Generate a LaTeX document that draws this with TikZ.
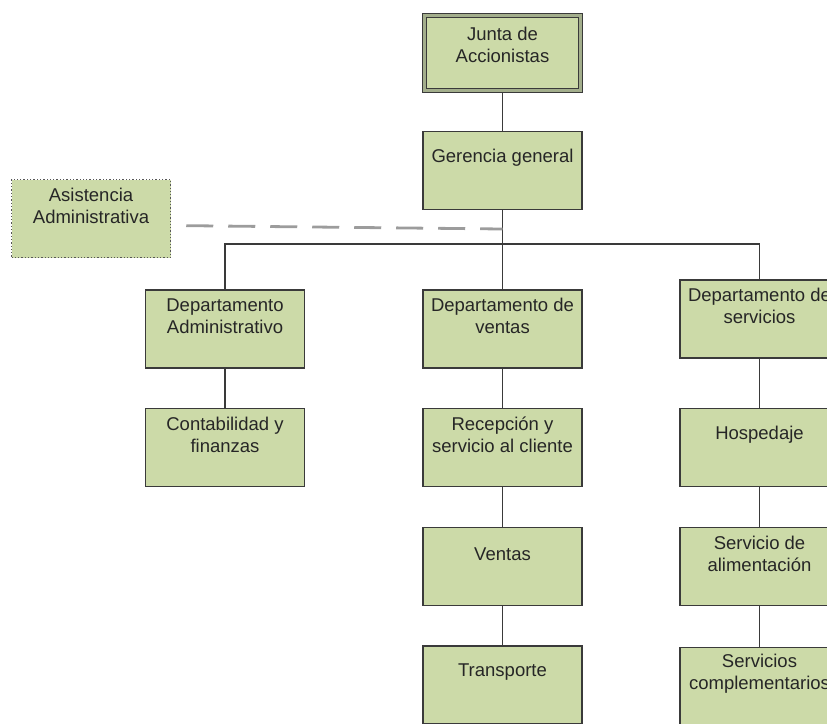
\documentclass[tikz,border=0pt]{standalone}
\usepackage{fontspec}
\setmainfont{Liberation Sans}
\usepackage{xcolor}
\usetikzlibrary{calc,positioning}
\definecolor{boxgreen}{HTML}{CCDAA8}
\definecolor{edge}{HTML}{3A3A3A}
\definecolor{gapgreen}{HTML}{A3AE8C}
\definecolor{dashgray}{HTML}{9C9C9C}
\tikzset{
  orgbox/.style={draw=edge, fill=boxgreen, line width=1.3pt, minimum width=159pt, minimum height=78pt, inner sep=0pt},
  topbox/.style={orgbox, fill=gapgreen, line width=1.6pt, minimum width=160pt, minimum height=79pt},
  innerbox/.style={draw=edge, fill=boxgreen, line width=1pt},
  staffbox/.style={orgbox, draw=edge!85, dotted, line width=1.5pt},
  boxtext/.style={text=black!85, font=\fontsize{18.5}{22}\selectfont, align=center, inner sep=0pt},
  conn/.style={draw=edge, line width=1.3pt},
  link/.style={draw=dashgray, line width=2.8pt, dash pattern=on 27pt off 15pt, dash phase=27pt}
}

\begin{document}
\begin{tikzpicture}[x=1pt,y=-1pt]
  \useasboundingbox (0,0) rectangle (827,723);
  \clip (0,0) rectangle (827,723);

  % boxes
  \node[topbox] (junta) at (502.5,53) {};
  \draw[innerbox] ($(junta.north west)+(4.5,4.5)$) rectangle ($(junta.south east)+(-4.5,-4.5)$);
  \node[orgbox] (ger) at (502.5,170.5) {};
  \node[staffbox] (asist) at (91,218.5) {};
  \node[orgbox] (dadm) at (225,329) {};
  \node[orgbox] (dven) at (502.5,329) {};
  \node[orgbox] (dser) at (759.5,319) {};
  \node[orgbox] (cont) at (225,447.5) {};
  \node[orgbox] (recep) at (502.5,447.5) {};
  \node[orgbox] (vent) at (502.5,566.5) {};
  \node[orgbox] (trans) at (502.5,685) {};
  \node[orgbox] (hosp) at (759.5,447.5) {};
  \node[orgbox] (alim) at (759.5,566.5) {};
  \node[orgbox] (compl) at (759.5,686.5) {};

  % texts
  \node[boxtext] (junta-t) at ($(junta.north)+(0,32)$) {Junta de\\Accionistas};
  \node[boxtext] (ger-t) at ($(ger.north)+(0,27)$) {Gerencia general};
  \node[boxtext] (asist-t) at ($(asist.north)+(0,27)$) {Asistencia\\Administrativa};
  \node[boxtext] (dadm-t) at ($(dadm.north)+(0,27)$) {Departamento\\Administrativo};
  \node[boxtext] (dven-t) at ($(dven.north)+(0,27)$) {Departamento de\\ventas};
  \node[boxtext] (dser-t) at ($(dser.north)+(0,27)$) {Departamento de\\servicios};
  \node[boxtext] (cont-t) at ($(cont.north)+(0,27)$) {Contabilidad y\\finanzas};
  \node[boxtext] (recep-t) at ($(recep.north)+(0,27)$) {Recepción y\\servicio al cliente};
  \node[boxtext] (vent-t) at ($(vent.north)+(0,27)$) {Ventas};
  \node[boxtext] (trans-t) at ($(trans.north)+(0,27)$) {Transporte};
  \node[boxtext] (hosp-t) at ($(hosp.north)+(0,27)$) {Hospedaje};
  \node[boxtext] (alim-t) at ($(alim.north)+(0,27)$) {Servicio de\\alimentación};
  \node[boxtext] (compl-t) at ($(compl.north)+(0,27)$) {Servicios\\complementarios};

  % connectors
  \coordinate (bus) at (502.5,244);
  \coordinate (gerlink) at (502.5,229);
  \draw[conn] (junta.south) -- (ger.north);
  \draw[conn] (ger.south) -- (dven.north);
  \draw[conn] (dadm.north) |- (bus) -| (dser.north);
  \draw[conn] (dadm) -- (cont);
  \draw[conn] (dven) -- (recep);
  \draw[conn] (recep) -- (vent);
  \draw[conn] (vent) -- (trans);
  \draw[conn] (dser) -- (hosp);
  \draw[conn] (hosp) -- (alim);
  \draw[conn] (alim) -- (compl);
  \draw[link] ($(asist.east)+(0,7)$) -- (gerlink);
\end{tikzpicture}
\end{document}
